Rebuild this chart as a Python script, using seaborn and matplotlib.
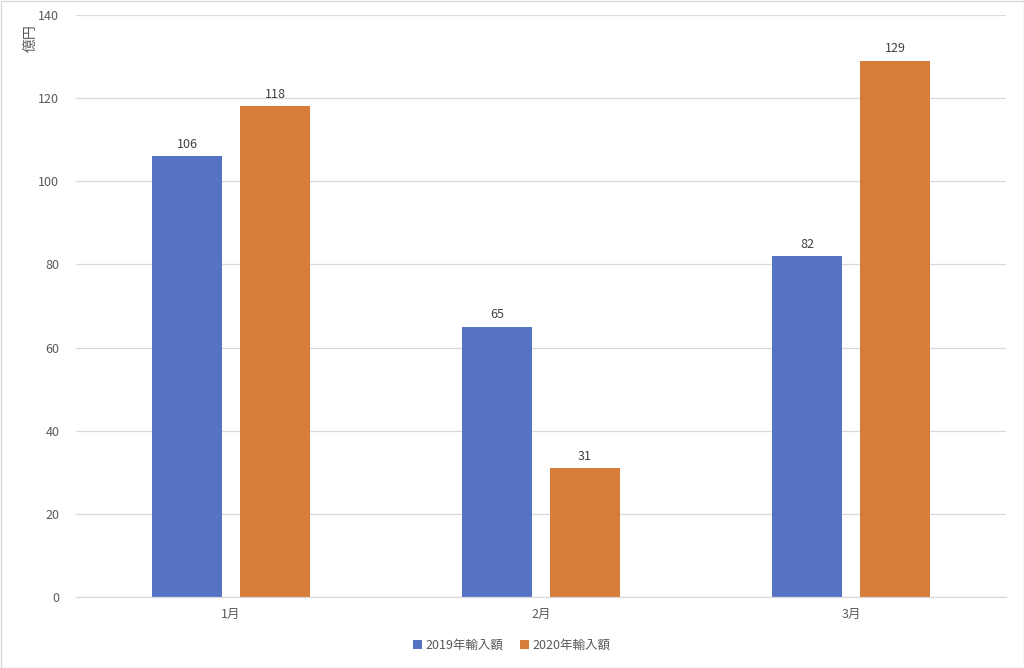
import matplotlib
matplotlib.use("Agg")
import matplotlib.pyplot as plt
import seaborn as sns
import pandas as pd
from matplotlib.patches import Rectangle

months = ["1月", "2月", "3月"]
series_names = ["2019年輸入額", "2020年輸入額"]
values_2019 = [106, 65, 82]
values_2020 = [118, 31, 129]
y_ticks = [0, 20, 40, 60, 80, 100, 120, 140]
y_label = "億円"

df = pd.DataFrame({
    "month": months * 2,
    "series": [series_names[0]] * 3 + [series_names[1]] * 3,
    "value": values_2019 + values_2020,
})

sns.set_theme(style="white")
plt.rcParams['font.family'] = ['Noto Sans CJK JP', 'DejaVu Sans']

colors = ["#5572C5", "#D67D39"]
text_color = "#595959"

fig = plt.figure(figsize=(10.24, 6.68), dpi=100)
ax = fig.add_axes([76/1024, 1 - 597/668, 930/1024, (597-15)/668])

sns.barplot(data=df, x="month", y="value", hue="series", palette=colors,
            width=0.568, gap=0.2, saturation=1, linewidth=0, ax=ax, legend=True)

ax.set_ylim(0, 140)
ax.set_xlim(-0.5, 2.5)
ax.set_yticks(y_ticks)
ax.grid(axis="y", color="#D9D9D9", linewidth=0.9)
ax.set_axisbelow(True)
for s in ["top", "right", "left"]:
    ax.spines[s].set_visible(False)
ax.spines["bottom"].set_color("#D9D9D9")
ax.spines["bottom"].set_linewidth(0.9)
ax.tick_params(axis="both", length=0, colors=text_color, labelsize=9)
ax.tick_params(axis="y", pad=12)
ax.tick_params(axis="x", pad=8)
ax.set_xlabel("")
ax.set_ylabel("")

for cont in ax.containers:
    ax.bar_label(cont, fmt="%d", padding=4, fontsize=9, color="#404040")

fig.text(31/1024, 1 - 38/668, y_label, rotation=90, ha="center", va="center",
         fontsize=10, color=text_color)

handles, labels = ax.get_legend_handles_labels()
ax.legend(handles, labels, loc="center", bbox_to_anchor=(0.5, 1 - 645/668),
          bbox_transform=fig.transFigure, ncol=2, frameon=False, fontsize=9,
          handlelength=0.7, handleheight=0.7, handletextpad=0.3, columnspacing=1.3,
          labelcolor=text_color)

fig.patches.append(Rectangle((0.5/1024, 0.5/668), 1 - 1/1024, 1 - 1/668,
                             transform=fig.transFigure, fill=False,
                             edgecolor="#D9D9D9", linewidth=1))

fig.savefig("out.png", dpi=100)
